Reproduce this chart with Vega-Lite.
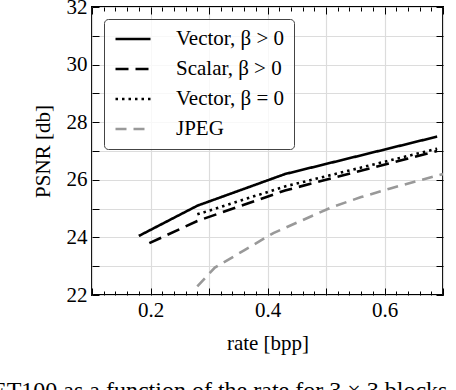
{
  "$schema": "https://vega.github.io/schema/vega-lite/v6.json",
  "width": 351,
  "height": 288,
  "autosize": {"type": "none"},
  "padding": {"left": 92, "top": 7, "right": 13, "bottom": 95},
  "background": "white",
  "title": {
    "text": "ET100 as a function of the rate for 3 × 3 blocks",
    "orient": "bottom",
    "anchor": "start",
    "frame": "bounds",
    "font": "serif",
    "fontSize": 24,
    "fontWeight": "normal",
    "color": "black",
    "offset": 26,
    "dx": -40
  },
  "config": {
    "font": "serif",
    "view": {"stroke": "black", "strokeWidth": 2},
    "axis": {
      "labelFont": "serif",
      "labelFontSize": 21,
      "labelColor": "black",
      "titleFont": "serif",
      "titleFontSize": 21,
      "titleFontWeight": "normal",
      "titleColor": "black",
      "tickColor": "black",
      "tickWidth": 1,
      "domain": false,
      "gridColor": "#dcdcdc",
      "gridWidth": 1.2
    },
    "legend": {
      "labelFont": "serif",
      "labelFontSize": 21,
      "labelColor": "black",
      "fillColor": "rgba(255,255,255,0.8)",
      "strokeColor": "#444444",
      "cornerRadius": 4,
      "padding": 10,
      "labelLimit": 300
    }
  },
  "data": {
    "values": [
      {"series": "Vector, β > 0", "rate": 0.18, "psnr": 24.05},
      {"series": "Vector, β > 0", "rate": 0.28, "psnr": 25.1},
      {"series": "Vector, β > 0", "rate": 0.43, "psnr": 26.2},
      {"series": "Vector, β > 0", "rate": 0.69, "psnr": 27.5},
      {"series": "Scalar, β > 0", "rate": 0.198, "psnr": 23.8},
      {"series": "Scalar, β > 0", "rate": 0.28, "psnr": 24.57},
      {"series": "Scalar, β > 0", "rate": 0.43, "psnr": 25.63},
      {"series": "Scalar, β > 0", "rate": 0.69, "psnr": 27.0},
      {"series": "Vector, β = 0", "rate": 0.28, "psnr": 24.8},
      {"series": "Vector, β = 0", "rate": 0.43, "psnr": 25.77},
      {"series": "Vector, β = 0", "rate": 0.69, "psnr": 27.08},
      {"series": "JPEG", "rate": 0.28, "psnr": 22.3},
      {"series": "JPEG", "rate": 0.31, "psnr": 22.95},
      {"series": "JPEG", "rate": 0.36, "psnr": 23.55},
      {"series": "JPEG", "rate": 0.41, "psnr": 24.15},
      {"series": "JPEG", "rate": 0.46, "psnr": 24.6},
      {"series": "JPEG", "rate": 0.51, "psnr": 25.05},
      {"series": "JPEG", "rate": 0.56, "psnr": 25.4},
      {"series": "JPEG", "rate": 0.61, "psnr": 25.7},
      {"series": "JPEG", "rate": 0.7, "psnr": 26.2}
    ]
  },
  "layer": [
    {
      "transform": [{"filter": "datum.series === 'Vector, β > 0'"}],
      "mark": {"type": "line", "clip": true},
      "encoding": {
        "x": {"field": "rate", "type": "quantitative",
          "scale": {"domain": [0.1, 0.7], "nice": false, "zero": false},
          "axis": {"orient": "bottom", "values": [0.1, 0.2, 0.3, 0.4, 0.5, 0.6, 0.7], "format": ".1f",
            "labelExpr": "round(datum.value*10)%2==0 ? datum.label : ''",
            "tickSize": -7, "grid": true, "title": "rate [bpp]", "labelPadding": 11, "titlePadding": 12}},
        "y": {"field": "psnr", "type": "quantitative",
          "scale": {"domain": [22, 32], "nice": false, "zero": false},
          "axis": {"orient": "left", "values": [22, 23, 24, 25, 26, 27, 28, 29, 30, 31, 32],
            "labelExpr": "datum.value%2==0 ? datum.label : ''",
            "tickSize": -7, "grid": true, "title": "PSNR [db]", "labelPadding": 12,
            "titleX": -49, "titleY": 144, "titleAngle": 270, "titleAlign": "center", "titleBaseline": "middle"}},
        "color": {"field": "series", "type": "nominal",
          "scale": {"domain": ["Vector, β > 0", "Scalar, β > 0", "Vector, β = 0", "JPEG"], "range": ["#000000", "#000000", "#000000", "#999999"]},
          "legend": {"title": null, "orient": "none", "legendX": 12, "legendY": 12, "symbolType": "stroke", "symbolSize": 1225, "clipHeight": 20, "rowPadding": 9, "labelOffset": 24}},
        "strokeDash": {"field": "series", "type": "nominal",
          "scale": {"domain": ["Vector, β > 0", "Scalar, β > 0", "Vector, β = 0", "JPEG"], "range": [[1, 0], [13, 7], [2.5, 4], [11, 7]]},
          "legend": {"title": null, "orient": "none", "legendX": 12, "legendY": 12, "symbolType": "stroke", "symbolSize": 1225, "clipHeight": 20, "rowPadding": 9, "labelOffset": 24}},
        "strokeWidth": {"field": "series", "type": "nominal",
          "scale": {"domain": ["Vector, β > 0", "Scalar, β > 0", "Vector, β = 0", "JPEG"], "range": [2.6, 2.6, 2.2, 1.6]},
          "legend": {"title": null, "orient": "none", "legendX": 12, "legendY": 12, "symbolType": "stroke", "symbolSize": 1225, "clipHeight": 20, "rowPadding": 9, "labelOffset": 24}}
      }
    },
    {
      "transform": [{"filter": "datum.series === 'Scalar, β > 0'"}],
      "mark": {"type": "line", "clip": true},
      "encoding": {
        "x": {"field": "rate", "type": "quantitative",
          "axis": {"orient": "bottom", "values": [0.12, 0.14, 0.16, 0.18, 0.22, 0.24, 0.26, 0.28, 0.32, 0.34, 0.36, 0.38, 0.42, 0.44, 0.46, 0.48, 0.52, 0.54, 0.56, 0.58, 0.62, 0.64, 0.66, 0.68],
            "labels": false, "tickSize": -4, "grid": false, "title": null}},
        "y": {"field": "psnr", "type": "quantitative",
          "axis": {"orient": "right", "values": [22, 23, 24, 25, 26, 27, 28, 29, 30, 31, 32],
            "labels": false, "tickSize": -7, "grid": false, "title": null}},
        "color": {"field": "series", "type": "nominal"},
        "strokeDash": {"field": "series", "type": "nominal"},
        "strokeWidth": {"field": "series", "type": "nominal"}
      }
    },
    {
      "transform": [{"filter": "datum.series === 'Vector, β = 0'"}],
      "mark": {"type": "line", "clip": true},
      "encoding": {
        "x": {"field": "rate", "type": "quantitative",
          "axis": {"orient": "top", "values": [0.1, 0.2, 0.3, 0.4, 0.5, 0.6, 0.7],
            "labels": false, "tickSize": -7, "grid": false, "title": null}},
        "y": {"field": "psnr", "type": "quantitative", "axis": null},
        "color": {"field": "series", "type": "nominal"},
        "strokeDash": {"field": "series", "type": "nominal"},
        "strokeWidth": {"field": "series", "type": "nominal"}
      }
    },
    {
      "transform": [{"filter": "datum.series === 'JPEG'"}],
      "mark": {"type": "line", "clip": true},
      "encoding": {
        "x": {"field": "rate", "type": "quantitative",
          "axis": {"orient": "top", "values": [0.12, 0.14, 0.16, 0.18, 0.22, 0.24, 0.26, 0.28, 0.32, 0.34, 0.36, 0.38, 0.42, 0.44, 0.46, 0.48, 0.52, 0.54, 0.56, 0.58, 0.62, 0.64, 0.66, 0.68],
            "labels": false, "tickSize": -4, "grid": false, "title": null}},
        "y": {"field": "psnr", "type": "quantitative", "axis": null},
        "color": {"field": "series", "type": "nominal"},
        "strokeDash": {"field": "series", "type": "nominal"},
        "strokeWidth": {"field": "series", "type": "nominal"}
      }
    }
  ],
  "resolve": {"axis": {"x": "independent", "y": "independent"}}
}
